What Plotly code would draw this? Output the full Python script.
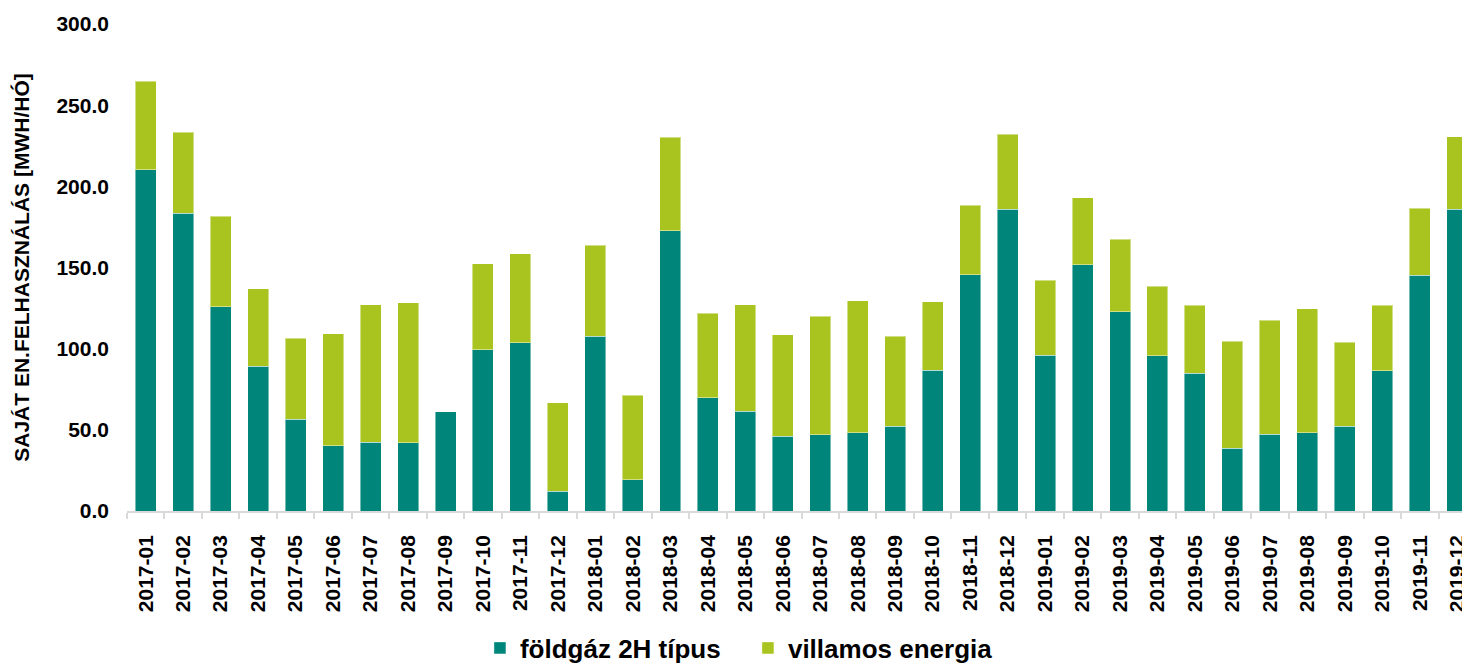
import plotly.graph_objects as go

months = ["2017-01", "2017-02", "2017-03", "2017-04", "2017-05", "2017-06",
          "2017-07", "2017-08", "2017-09", "2017-10", "2017-11", "2017-12",
          "2018-01", "2018-02", "2018-03", "2018-04", "2018-05", "2018-06",
          "2018-07", "2018-08", "2018-09", "2018-10", "2018-11", "2018-12",
          "2019-01", "2019-02", "2019-03", "2019-04", "2019-05", "2019-06",
          "2019-07", "2019-08", "2019-09", "2019-10", "2019-11", "2019-12"]

foldgaz = [210.2, 183.3, 125.7, 89.2, 56.5, 40.1,
           42.5, 42.1, 61.0, 99.2, 103.6, 12.3,
           107.7, 19.1, 172.6, 69.9, 61.6, 46.0,
           47.1, 48.1, 52.2, 86.7, 145.5, 185.9,
           96.0, 151.6, 122.7, 95.5, 84.9, 38.8,
           47.3, 48.1, 52.2, 86.5, 145.3, 185.9]

villamos = [54.6, 50.1, 55.9, 47.8, 49.9, 69.2,
            84.7, 86.1, 0.0, 53.1, 55.0, 54.5,
            56.1, 52.2, 57.5, 51.9, 65.6, 62.7,
            72.9, 81.5, 55.3, 42.3, 42.9, 46.3,
            46.2, 41.5, 44.8, 42.8, 41.7, 65.8,
            70.2, 76.6, 51.8, 40.1, 41.1, 44.8]

y_ticks = [0, 50, 100, 150, 200, 250, 300]
y_ticktext = ["0.0", "50.0", "100.0", "150.0", "200.0", "250.0", "300.0"]

FONT = "Liberation Sans, Arial, sans-serif"
line_col = "rgba(255,255,255,0.45)"

fig = go.Figure()
fig.add_trace(go.Bar(x=months, y=foldgaz, name="földgáz 2H típus",
                     marker=dict(color="#00857B", line=dict(color=line_col, width=1))))
fig.add_trace(go.Bar(x=months, y=villamos, name="villamos energia",
                     marker=dict(color="#A9C41F", line=dict(color=line_col, width=1))))

fig.update_layout(
    width=1462, height=656,
    barmode="stack", bargap=0.44,
    plot_bgcolor="white", paper_bgcolor="white",
    margin=dict(l=119, r=0, t=16, b=153, autoexpand=False),
    font=dict(family=FONT, color="black"),
    legend=dict(orientation="h", xref="paper", yref="paper",
                x=0.2628, xanchor="left", y=-0.2813, yanchor="middle",
                font=dict(size=26, family=FONT, weight="bold"),
                itemwidth=30, entrywidth=223, entrywidthmode="pixels",
                traceorder="normal"),
    showlegend=True,
)
fig.update_xaxes(
    type="category", range=[-0.5, 35.34],
    showline=True, linecolor="#d9d9d9", linewidth=1.5,
    ticks="outside", tickson="boundaries", ticklen=6, tickcolor="#d9d9d9", tickwidth=1.5,
    tickangle=-90, tickfont=dict(size=21, family=FONT, weight="bold", color="black"),
    ticklabelstandoff=14,
    showgrid=False,
)
fig.update_yaxes(
    range=[0, 300], tickvals=y_ticks, ticktext=y_ticktext,
    showgrid=False, showline=False, zeroline=False,
    tickfont=dict(size=21, family=FONT, weight="bold", color="black"),
    ticklabelstandoff=17,
    title=dict(text="SAJÁT EN.FELHASZNÁLÁS [MWH/HÓ]",
               font=dict(size=21, family=FONT, weight="bold", color="black"),
               standoff=21),
)

fig.write_html("out.html")
